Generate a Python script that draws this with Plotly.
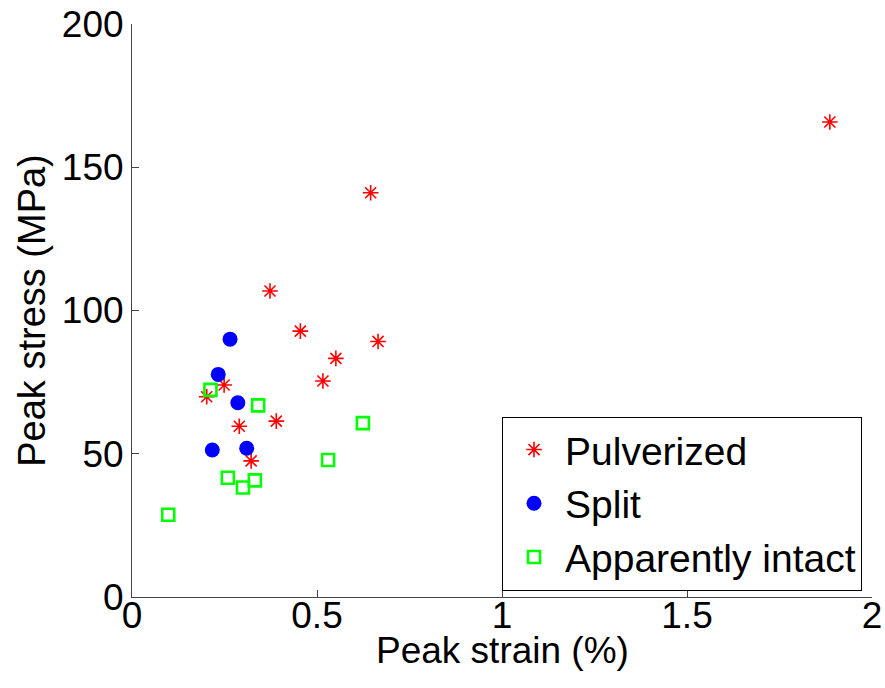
import plotly.graph_objects as go

pulv_x = [0.373, 0.455, 0.645, 0.665, 0.551, 0.516, 0.249, 0.202, 0.390, 0.290, 0.322, 1.886]
pulv_y = [106.8, 92.8, 141.1, 89.2, 83.3, 75.4, 74.0, 69.9, 61.4, 59.6, 47.5, 165.8]

split_x = [0.265, 0.233, 0.286, 0.217, 0.310]
split_y = [90.0, 77.7, 67.8, 51.3, 51.9]

intact_x = [0.212, 0.341, 0.624, 0.530, 0.259, 0.332, 0.300, 0.098]
intact_y = [72.3, 66.9, 60.7, 47.8, 41.6, 40.7, 38.2, 28.7]

x_ticks = [0, 0.5, 1, 1.5, 2]
x_labels = ["0", "0.5", "1", "1.5", "2"]
y_ticks = [0, 50, 100, 150, 200]
y_labels = ["0", "50", "100", "150", "200"]

FONT = "Liberation Sans, Arial, Helvetica, sans-serif"

fig = go.Figure()
fig.add_trace(go.Scatter(x=pulv_x, y=pulv_y, mode="markers", name="Pulverized",
                         marker=dict(symbol="asterisk-open", size=13, color="red",
                                     line=dict(color="red", width=1.6))))
fig.add_trace(go.Scatter(x=split_x, y=split_y, mode="markers", name="Split",
                         marker=dict(symbol="circle", size=15, color="#0000ff",
                                     line=dict(width=0))))
fig.add_trace(go.Scatter(x=intact_x, y=intact_y, mode="markers", name="Apparently intact",
                         marker=dict(symbol="square-open", size=12, color="#00ff00",
                                     line=dict(color="#00ff00", width=2.6))))

fig.update_layout(
    width=885, height=688,
    margin=dict(l=132, r=13, t=24, b=91),
    paper_bgcolor="white", plot_bgcolor="white",
    font=dict(family=FONT, size=37, color="black"),
    legend=dict(x=0.9865, y=0.011, xanchor="right", yanchor="bottom",
                bgcolor="white", bordercolor="black", borderwidth=1,
                font=dict(size=39), itemsizing="trace", itemwidth=52),
    xaxis=dict(range=[0, 2], tickvals=x_ticks, ticktext=x_labels,
               showgrid=False, zeroline=False, showline=True, linecolor="#444",
               linewidth=1, mirror=False, ticks="inside", ticklen=7, tickcolor="#444",
               ticklabelposition="outside", ticklabelstandoff=-14, automargin=False),
    yaxis=dict(range=[0, 200], tickvals=y_ticks, ticktext=y_labels,
               showgrid=False, zeroline=False, showline=True, linecolor="#444",
               linewidth=1, mirror=False, ticks="inside", ticklen=7, tickcolor="#444",
               title=dict(text="Peak stress (MPa)", standoff=4, font=dict(size=38)),
               automargin=False),
    annotations=[dict(text="Peak strain (%)", xref="paper", yref="paper",
                      x=0.5, y=-0.094, xanchor="center", yanchor="middle",
                      showarrow=False, font=dict(size=37))],
)

fig.write_html("out.html")
